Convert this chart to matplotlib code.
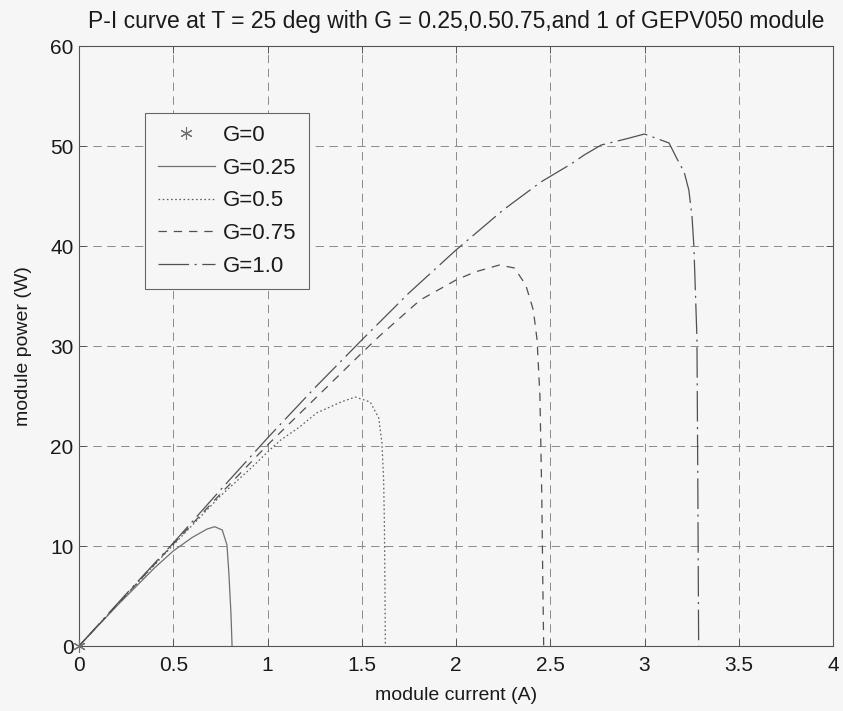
import matplotlib
matplotlib.use("Agg")
import matplotlib.pyplot as plt

plt.rcParams['font.family'] = ['Liberation Sans', 'DejaVu Sans']
plt.rcParams['lines.scale_dashes'] = False

# ---- data ----
i_g0 = [0.0]
p_g0 = [0.0]

i_g025 = [0, 0.1, 0.2, 0.3, 0.4, 0.5, 0.6, 0.68, 0.72, 0.76, 0.785, 0.795, 0.806, 0.812]
p_g025 = [0, 2.0, 4.0, 5.9, 7.8, 9.5, 10.85, 11.7, 11.93, 11.6, 10.1, 7.3, 3.3, 0]

i_g05 = [0, 0.25, 0.5, 0.75, 0.93, 1.0, 1.07, 1.17, 1.26, 1.39, 1.465, 1.545, 1.59,
         1.607, 1.616, 1.62, 1.623, 1.625]
p_g05 = [0, 5.1, 10.1, 15.0, 18.1, 19.4, 20.6, 21.9, 23.3, 24.4, 24.9, 24.4, 22.8,
         20.3, 16.6, 12.3, 6.0, 0]

i_g075 = [0, 0.25, 0.5, 0.75, 1.0, 1.25, 1.5, 1.6, 1.81, 2.0, 2.1, 2.23, 2.31, 2.37,
          2.41, 2.43, 2.445, 2.455, 2.46, 2.465]
p_g075 = [0, 5.1, 10.2, 15.2, 20.1, 24.7, 29.3, 31.1, 34.6, 36.6, 37.4, 38.1, 37.8, 36.1,
          33.6, 30.6, 25.0, 15.0, 7.0, 0]

i_g1 = [0, 0.25, 0.5, 0.75, 1.0, 1.25, 1.5, 1.75, 2.0, 2.25, 2.45, 2.61, 2.68, 2.77,
        2.90, 3.0, 3.13, 3.17, 3.21, 3.235, 3.252, 3.262, 3.27, 3.278, 3.283, 3.287]
p_g1 = [0, 5.2, 10.3, 15.6, 20.8, 25.8, 30.6, 35.3, 39.6, 43.6, 46.4, 48.2, 49.1, 50.1,
        50.7, 51.2, 50.3, 48.8, 47.4, 45.6, 42.9, 39.9, 35.3, 30.8, 15.0, 0]

labels = ['G=0', 'G=0.25', 'G=0.5', 'G=0.75', 'G=1.0']
x_ticks = [0, 0.5, 1, 1.5, 2, 2.5, 3, 3.5, 4]
x_ticklabels = ['0', '0.5', '1', '1.5', '2', '2.5', '3', '3.5', '4']
y_ticks = [0, 10, 20, 30, 40, 50, 60]

title = 'P-I curve at T = 25 deg with G = 0.25,0.50.75,and 1 of GEPV050 module'

# ---- figure ----
bg = '#f6f6f6'
fig = plt.figure(figsize=(8.43, 7.11), dpi=100, facecolor=bg)
ax = fig.add_axes([0.0937, 0.0914, 0.8945, 0.8439], facecolor=bg)

lc = '#505050'
ax.plot(i_g0, p_g0, linestyle='none', marker=(6, 2, 0), markersize=9,
        color='#707070', markeredgewidth=0.8, label=labels[0], clip_on=False, zorder=5)
ax.plot(i_g025, p_g025, color='#707070', linewidth=0.9, linestyle='-', label=labels[1])
ax.plot(i_g05, p_g05, color='#606060', linewidth=0.9, linestyle=(0, (1.2, 1.8)), label=labels[2])
ax.plot(i_g075, p_g075, color=lc, linewidth=0.9, linestyle=(0, (6, 5)), label=labels[3])
ax.plot(i_g1, p_g1, color=lc, linewidth=0.9, linestyle=(0, (22, 4, 1.5, 4)), label=labels[4])

ax.set_xlim(0, 4)
ax.set_ylim(0, 60)
ax.set_xticks(x_ticks)
ax.set_xticklabels(x_ticklabels)
ax.set_yticks(y_ticks)

ax.grid(True, color='#8a8a8a', linestyle=(0, (6, 4)), linewidth=0.7)
ax.set_axisbelow(True)

ax.tick_params(direction='in', length=5, width=0.7, color='#555555',
               top=True, right=True, labelsize=15, labelcolor='#1a1a1a')
ax.tick_params(axis='x', pad=7)
ax.tick_params(axis='y', pad=4)
for s in ax.spines.values():
    s.set_color('#555555')
    s.set_linewidth(0.8)

ax.set_xlabel('module current (A)', fontsize=14, color='#1a1a1a', labelpad=9)
ax.set_ylabel('module power (W)', fontsize=14, color='#1a1a1a', labelpad=13)
ax.set_title(title, fontsize=16.5, color='#1a1a1a', pad=13)

leg = ax.legend(loc='upper left', bbox_to_anchor=(0.088, 0.889), borderaxespad=0,
                fontsize=16, frameon=True, fancybox=False, edgecolor='#666666',
                facecolor=bg, framealpha=1, handlelength=2.6, handletextpad=0.35,
                labelspacing=0.53, borderpad=0.55)
leg.get_frame().set_linewidth(0.8)
for t in leg.get_texts():
    t.set_color('#1a1a1a')

fig.savefig('out.png', dpi=100, facecolor=bg)
